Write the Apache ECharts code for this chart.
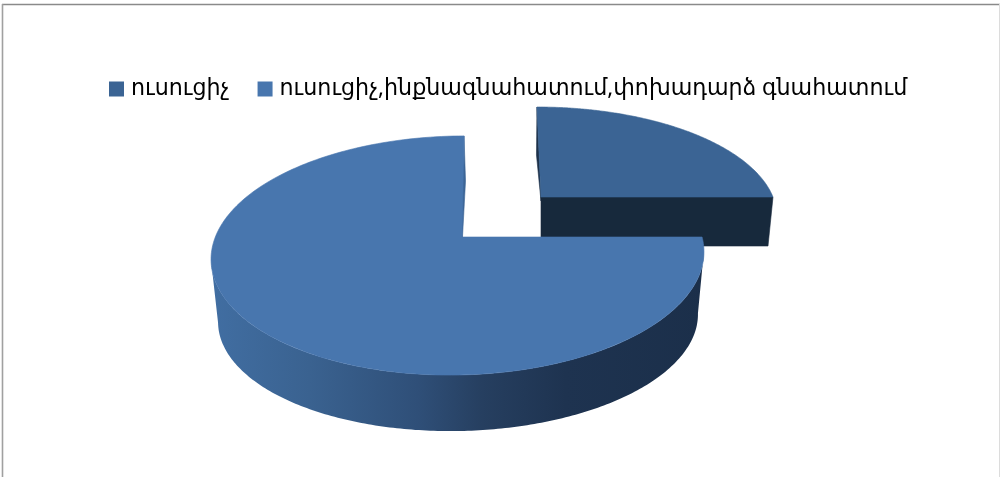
<!DOCTYPE html>
<html>
<head>
<meta charset="utf-8">
<style>html,body{margin:0;padding:0;background:#fff;overflow:hidden}#c{width:1000px;height:477px}</style>
<script src="https://cdn.jsdelivr.net/npm/echarts@6/dist/echarts.min.js"></script>
</head>
<body>
<div id="c"></div>
<script>
const categories = ['ուսուցիչ', 'ուսուցիչ,ինքնագնահատում,փոխադարձ գնահատում'];
const values = [25, 75];
const colors = ['#3b6494', '#4876ae'];

const total = values.reduce((a, b) => a + b, 0);
const toAngle = v => v / total * 2 * Math.PI;

// Perspective parameters of the two exploded slices
const views = [
  { apex: [541, 197], top: { c: [537, 217], r: [240, 110], tilt: 0 }, dir: { a: 240, s: -3.8, b: 85 } },
  { apex: [462, 237], top: { c: [457.5, 255.5], r: [246.5, 119.5], tilt: -0.02 }, low: { c: [458, 318], r: [240, 113], tilt: -0.02 }, dir: { a: 242, s: 1.7, b: 85 } }
];

// Where the ray of pie angle th, starting at the apex, meets the rim ellipse
function rimParam(view, th) {
  const u = Math.sin(th), v = Math.cos(th);
  const dx = view.dir.a * u + view.dir.s * v, dy = -view.dir.b * v;
  const e = view.top;
  const ca = Math.cos(-e.tilt), sa = Math.sin(-e.tilt);
  const rot = (x, y) => [x * ca - y * sa, x * sa + y * ca];
  const o = rot(view.apex[0] - e.c[0], view.apex[1] - e.c[1]);
  const d = rot(dx, dy);
  const ox = o[0] / e.r[0], oy = o[1] / e.r[1];
  const px = d[0] / e.r[0], py = d[1] / e.r[1];
  const A = px * px + py * py, B = 2 * (ox * px + oy * py), C = ox * ox + oy * oy - 1;
  const t = (-B + Math.sqrt(B * B - 4 * A * C)) / (2 * A);
  return Math.atan2(oy + t * py, ox + t * px);
}
function onEllipse(e, t) {
  const x = e.r[0] * Math.cos(t), y = e.r[1] * Math.sin(t);
  const ca = Math.cos(e.tilt), sa = Math.sin(e.tilt);
  return [e.c[0] + x * ca - y * sa, e.c[1] + x * sa + y * ca];
}
function arc(e, t0, t1, n) {
  const out = [];
  for (let i = 0; i <= n; i++) out.push(onEllipse(e, t0 + (t1 - t0) * i / n));
  return out;
}
function topFace(view, th0, th1) {
  const out = [view.apex];
  const n = 240;
  for (let i = 0; i <= n; i++) {
    const t = rimParam(view, th0 + (th1 - th0) * i / n);
    out.push(onEllipse(view.top, t));
  }
  return out;
}
const poly = (points, fill, stroke) => ({
  type: 'polygon',
  shape: { points },
  style: { fill, stroke: stroke || fill, lineWidth: 0.6 }
});

function renderSmall(params) {
  const view = views[0];
  const th1 = toAngle(values[0]);
  const face = topFace(view, 0, th1);
  const outer = face[face.length - 1], first = face[1];
  return {
    type: 'group',
    children: [
      poly([first, [first[0] - 0.5, first[1] + 48], [view.apex[0], view.apex[1] + 4], view.apex], '#1c3049'),
      poly([view.apex, outer, [outer[0] - 5, outer[1] + 49], [view.apex[0], view.apex[1] + 49]], '#17293c'),
      poly(face, colors[0])
    ]
  };
}
function renderLarge(params) {
  const view = views[1];
  const th0 = toAngle(values[0]);
  const face = topFace(view, th0, 2 * Math.PI);
  const outerEnd = face[face.length - 1];
  const wallGrad = new echarts.graphic.LinearGradient(0, 0, 1, 0, [
    { offset: 0, color: '#416ea2' },
    { offset: 0.2, color: '#3a6290' },
    { offset: 0.42, color: '#2f4f78' },
    { offset: 0.55, color: '#263f60' },
    { offset: 0.72, color: '#1e3350' },
    { offset: 1, color: '#1b2f4a' }
  ]);
  const upper = arc(view.top, Math.PI, 0, 200);
  const lower = arc(view.low, 0, Math.PI, 200);
  return {
    type: 'group',
    children: [
      poly([outerEnd, [outerEnd[0] + 1.5, outerEnd[1] + 45], [view.apex[0] + 0.5, view.apex[1]], [view.apex[0] - 1.5, view.apex[1]]], '#3c6596'),
      poly(upper.concat(lower), wallGrad, 'rgba(0,0,0,0)'),
      poly(face, colors[1])
    ]
  };
}

const chart = echarts.init(document.getElementById('c'), null, { renderer: 'canvas' });
chart.setOption({
  animation: false,
  backgroundColor: '#ffffff',
  legend: {
    left: 104,
    top: 73,
    icon: 'rect',
    itemWidth: 15,
    itemHeight: 15,
    itemGap: 28,
    data: categories,
    textStyle: { fontFamily: 'Noto Sans, DejaVu Sans', fontSize: 22.2, color: '#000', padding: [0, 0, 0, 2] },
    selectedMode: false
  },
  graphic: [
    { type: 'line', silent: true, shape: { x1: 2, y1: 4.5, x2: 1000, y2: 4.5 }, style: { stroke: '#8a8a8a', lineWidth: 1.6 } },
    { type: 'line', silent: true, shape: { x1: 2.5, y1: 4, x2: 2.5, y2: 477 }, style: { stroke: '#a0a0a0', lineWidth: 1.6 } },
    { type: 'line', silent: true, shape: { x1: 999.5, y1: 4, x2: 999.5, y2: 477 }, style: { stroke: '#dcdcdc', lineWidth: 1 } }
  ],
  series: [
    { type: 'custom', name: categories[0], coordinateSystem: 'none', silent: true, itemStyle: { color: colors[0] }, data: [[values[0]]], renderItem: renderSmall },
    { type: 'custom', name: categories[1], coordinateSystem: 'none', silent: true, itemStyle: { color: colors[1] }, data: [[values[1]]], renderItem: renderLarge }
  ]
});
</script>
</body>
</html>
